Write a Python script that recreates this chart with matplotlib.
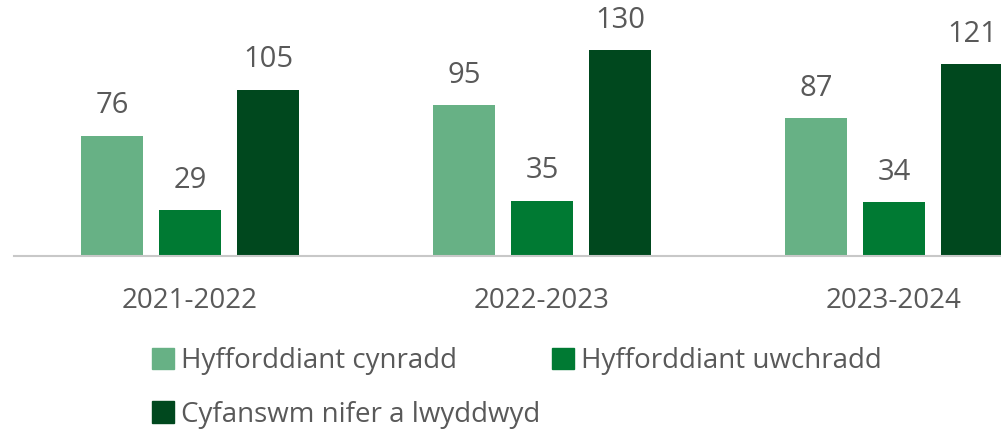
import numpy as np
import matplotlib
matplotlib.use("Agg")
import matplotlib.pyplot as plt
from matplotlib.patches import Patch

plt.rcParams['font.family'] = ['Open Sans', 'DejaVu Sans']

# data
years = ['2021-2022', '2022-2023', '2023-2024']
series_names = ['Hyfforddiant cynradd', 'Hyfforddiant uwchradd', 'Cyfanswm nifer a lwyddwyd']
cynradd = [76, 95, 87]
uwchradd = [29, 35, 34]
cyfanswm = [105, 130, 121]
colours = ['#67B185', '#007A33', '#00481E']

text_col = '#595959'
fs = 20

fig = plt.figure(figsize=(10.01, 4.33), dpi=100)
# plot area runs past the right edge, like the cropped original
ax = fig.add_axes([14 / 1001, 177 / 433, 1056 / 1001, 253.6 / 433])

x = np.arange(len(years))
w = 62 / 352
step = 78 / 352
for i, (vals, col) in enumerate(zip([cynradd, uwchradd, cyfanswm], colours)):
    bars = ax.bar(x + (i - 1) * step, vals, width=w, color=col, label=series_names[i])
    ax.bar_label(bars, padding=11, fontsize=21, color=text_col)

ax.set_xlim(-0.5, 2.5)
ax.set_ylim(0, 160)
ax.set_yticks([])
ax.set_xticks(x)
ax.set_xticklabels(years, fontsize=fs, color=text_col)
ax.tick_params(axis='x', length=0, pad=22)
for s in ['top', 'left', 'right']:
    ax.spines[s].set_visible(False)
ax.spines['bottom'].set_color('#C8C8C8')
ax.spines['bottom'].set_linewidth(1.5)

handles = [Patch(color=colours[0]), Patch(color=colours[2]), Patch(color=colours[1])]
labels = [series_names[0], series_names[2], series_names[1]]
leg = fig.legend(handles, labels, ncol=2, loc='upper left',
                 bbox_to_anchor=(127 / 1001, 1 - 322 / 433), frameon=False,
                 fontsize=fs, handlelength=0.8, handleheight=0.8,
                 handletextpad=0.25, columnspacing=0.4, labelspacing=0.92)
for t in leg.get_texts():
    t.set_color(text_col)

fig.savefig('out.png', dpi=100)
